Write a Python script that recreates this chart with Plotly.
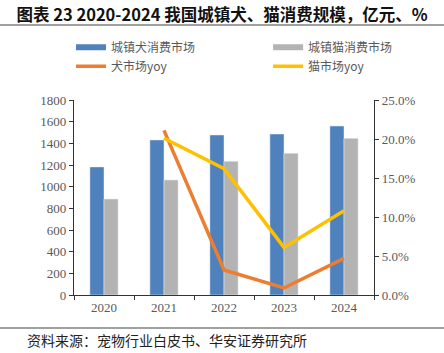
import plotly.graph_objects as go

years = ["2020", "2021", "2022", "2023", "2024"]
dog_market = [1182, 1431, 1477, 1486, 1560]
cat_market = [886, 1062, 1234, 1308, 1446]
dog_yoy = [None, 0.211, 0.032, 0.009, 0.047]
cat_yoy = [None, 0.201, 0.162, 0.061, 0.108]

names = ["城镇犬消费市场", "城镇猫消费市场", "犬市场yoy", "猫市场yoy"]
c_blue, c_gray, c_orange, c_yellow = "#4F81BD", "#B3B3B3", "#ED7D31", "#FFC000"

tick_font = dict(family="Liberation Serif, Times New Roman, serif", size=13, color="#595959")
leg_font = dict(family="Noto Sans CJK SC", size=12, color="#595959")

fig = go.Figure()
fig.add_bar(x=years, y=dog_market, marker_color=c_blue, name=names[0], showlegend=False)
fig.add_bar(x=years, y=cat_market, marker_color=c_gray, name=names[1], showlegend=False)
fig.add_scatter(x=years, y=dog_yoy, mode="lines", line=dict(color=c_orange, width=3.5),
                yaxis="y2", showlegend=False, name=names[2])
fig.add_scatter(x=years, y=cat_yoy, mode="lines", line=dict(color=c_yellow, width=3.5),
                yaxis="y2", showlegend=False, name=names[3])

# legend entries (wide swatches like the original), two columns
for nm, col, w, lg in [(names[0], c_blue, 6, "legend"), (names[2], c_orange, 3.5, "legend"),
                       (names[1], c_gray, 6, "legend2"), (names[3], c_yellow, 3.5, "legend2")]:
    fig.add_scatter(x=[None], y=[None], mode="lines", line=dict(color=col, width=w),
                    name=nm, legend=lg)

leg_common = dict(orientation="v", xanchor="left", y=1.345, yanchor="top",
                  font=leg_font, bgcolor="rgba(0,0,0,0)", traceorder="normal")

fig.update_layout(
    width=444, height=353,
    margin=dict(l=74, r=70, t=100, b=58),
    paper_bgcolor="white", plot_bgcolor="white",
    barmode="group", bargap=0.53, bargroupgap=0,
    font=dict(family="Noto Sans CJK SC", color="#595959"),
    xaxis=dict(type="category", showline=True, linecolor="#333333", linewidth=1.3,
               ticks="outside", tickson="boundaries", ticklen=4, tickcolor="#333333",
               tickfont=tick_font, showgrid=False),
    yaxis=dict(range=[0, 1800], dtick=200, showline=True, linecolor="#333333", linewidth=1.3,
               ticks="outside", ticklen=4, tickcolor="#333333", tickfont=tick_font,
               showgrid=False, zeroline=False),
    yaxis2=dict(range=[0, 0.25], dtick=0.05, tickformat=".1%", overlaying="y", side="right",
                showline=True, linecolor="#333333", linewidth=1.3, ticks="outside", ticklen=4,
                tickcolor="#333333", tickfont=tick_font, showgrid=False, zeroline=False),
    legend=dict(x=-0.01, **leg_common),
    legend2=dict(x=0.647, **leg_common),
    title=dict(text="<b>图表 23 2020-2024 我国城镇犬、猫消费规模，亿元、%</b>",
               x=0.5, xanchor="center", y=1 - 15 / 353, yanchor="middle",
               font=dict(family="Noto Sans CJK SC", size=16.5, color="#111111")),
    shapes=[
        dict(type="line", xref="paper", yref="paper", x0=-74 / 300, x1=370 / 300,
             y0=(295 - 25) / 195, y1=(295 - 25) / 195, line=dict(color="#808080", width=1.5)),
        dict(type="line", xref="paper", yref="paper", x0=-74 / 300, x1=370 / 300,
             y0=(295 - 328) / 195, y1=(295 - 328) / 195, line=dict(color="#808080", width=1.5)),
    ],
    annotations=[
        dict(text="资料来源：宠物行业白皮书、华安证券研究所", xref="paper", yref="paper",
             x=(25 - 74) / 300, xanchor="left", y=(295 - 340) / 195, yanchor="middle",
             showarrow=False, font=dict(family="Noto Sans CJK SC", size=14, color="#222222")),
    ],
)

fig.write_html("out.html")
